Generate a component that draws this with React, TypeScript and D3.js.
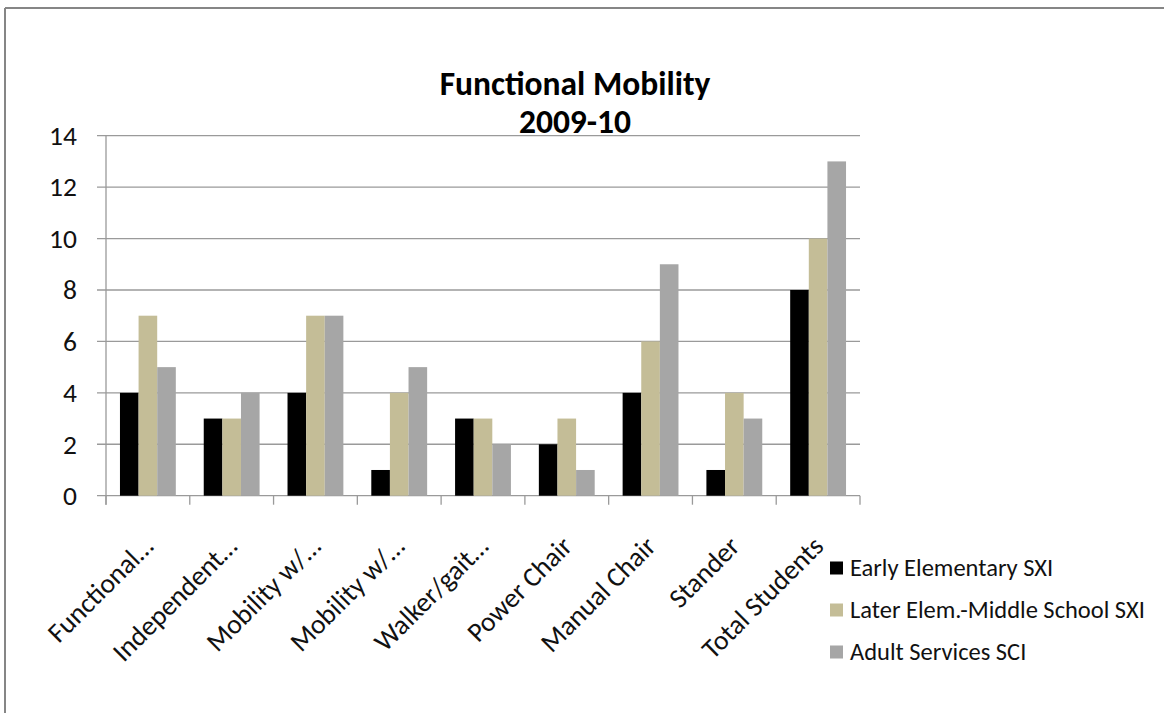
import React from "react";
import * as d3 from "d3";

const categories = [
  "Functional…",
  "Independent…",
  "Mobility w/…",
  "Mobility w/…",
  "Walker/gait…",
  "Power Chair",
  "Manual Chair",
  "Stander",
  "Total Students",
];

const seriesNames = [
  "Early Elementary SXI",
  "Later Elem.-Middle School SXI",
  "Adult Services SCI",
];

const earlyElementary = [4, 3, 4, 1, 3, 2, 4, 1, 8];
const laterElemMiddle = [7, 3, 7, 4, 3, 3, 6, 4, 10];
const adultServices = [5, 4, 7, 5, 2, 1, 9, 3, 13];

const yTicks = [0, 2, 4, 6, 8, 10, 12, 14];

const seriesColors = ["#000000", "#C4BD97", "#A6A6A6"];

const W = 1164;
const H = 713;
const FONT = "Calibri, Carlito, Lato, 'Open Sans', sans-serif";

export default function App() {
  const series = [earlyElementary, laterElemMiddle, adultServices];
  const left = 106;
  const right = 860;
  const top = 135.7;
  const bottom = 495.7;

  const x = d3.scaleBand<number>().domain(d3.range(categories.length)).range([left, right]);
  const bw = x.bandwidth() / 4.5;
  const y = d3.scaleLinear().domain([0, 14]).range([bottom, top]);

  const grid = "#9a9a9a";

  return (
    <svg
      width={W}
      height={H}
      style={{ position: "absolute", left: 0, top: 0, background: "#fff" }}
      fontFamily={FONT}
    >
      <rect x={0} y={0} width={W} height={H} fill="#fff" />
      {/* chart frame */}
      <line x1={5} y1={8} x2={W} y2={8} stroke="#868686" strokeWidth={2} />
      <line x1={5} y1={8} x2={5} y2={H} stroke="#868686" strokeWidth={2} />

      {/* title */}
      <text x={575} y={95} textAnchor="middle" fontSize={33.5} fontWeight="bold" fill="#000">
        Functional Mobility
      </text>
      <text x={575} y={133} textAnchor="middle" fontSize={33.5} fontWeight="bold" fill="#000">
        2009-10
      </text>

      {/* gridlines and y axis */}
      {yTicks.map((t) => (
        <g key={t}>
          <line x1={left - 9} x2={right} y1={y(t)} y2={y(t)} stroke={grid} strokeWidth={1.3} />
          <text x={77} y={y(t)} dy="0.34em" textAnchor="end" fontSize={27.5} fill="#111">
            {t}
          </text>
        </g>
      ))}
      <line x1={left} x2={left} y1={top} y2={bottom + 9} stroke={grid} strokeWidth={1.3} />
      {d3.range(categories.length + 1).map((i) => {
        const tx = left + i * x.step();
        return (
          <line key={i} x1={tx} x2={tx} y1={bottom} y2={bottom + 9} stroke={grid} strokeWidth={1.3} />
        );
      })}

      {/* bars */}
      {categories.map((_, ci) =>
        series.map((s, si) => {
          const bx = (x(ci) as number) + bw * 0.75 + si * bw;
          return (
            <rect
              key={`${ci}-${si}`}
              x={bx}
              y={y(s[ci])}
              width={bw}
              height={bottom - y(s[ci])}
              fill={seriesColors[si]}
            />
          );
        })
      )}

      {/* category labels */}
      {categories.map((c, ci) => {
        const cx = (x(ci) as number) + x.bandwidth() / 2 + 7;
        const cy = 548;
        return (
          <text
            key={ci}
            x={cx}
            y={cy}
            textAnchor="end"
            fontSize={27.5}
            fill="#111"
            transform={`rotate(-45 ${cx} ${cy})`}
          >
            {c}
          </text>
        );
      })}

      {/* legend */}
      {seriesNames.map((n, i) => {
        const ly = 568 + i * 42;
        return (
          <g key={n}>
            <rect x={830} y={ly - 6.5} width={13} height={13} fill={seriesColors[i]} />
            <text x={850} y={ly} dy="0.34em" fontSize={24.5} fill="#111">
              {n}
            </text>
          </g>
        );
      })}
    </svg>
  );
}
